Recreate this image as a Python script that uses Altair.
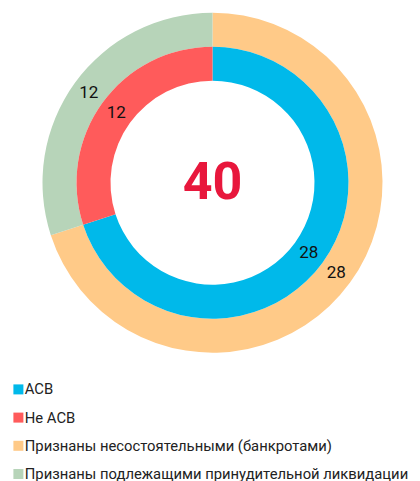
import altair as alt
import pandas as pd

inner_labels = ["АСВ", "Не АСВ"]
inner_values = [28, 12]
outer_labels = ["Признаны несостоятельными (банкротами)",
                "Признаны подлежащими принудительной ликвидации"]
outer_values = [28, 12]
total = [40]
colors = ["#00B9EA", "#FF5B5B", "#FFCA88", "#B7D4B9"]

FONT = "Roboto"
CX, CY = 204.5, 174.7

inner = pd.DataFrame({"cat": inner_labels, "value": inner_values, "idx": list(range(len(inner_labels)))})
outer = pd.DataFrame({"cat": outer_labels, "value": outer_values, "idx": list(range(len(outer_labels)))})
center = pd.DataFrame({"total": total})

color_scale = alt.Scale(domain=inner_labels + outer_labels, range=colors)

legend = alt.Legend(
    title=None, orient="none", legendX=-1, legendY=375,
    symbolType="M-0.2,-1.2H1.8V0.8H-0.2Z", symbolSize=100, symbolStrokeWidth=0,
    labelFont=FONT, labelFontSize=14.8, labelColor="#222222", labelLimit=0,
    rowPadding=12.2, labelOffset=3, padding=0, direction="vertical",
)


def ring(df, r_in, r_out, r_lab):
    base = alt.Chart(df).encode(
        theta=alt.Theta("value:Q", stack=True),
        order=alt.Order("idx:O"),
    )
    arc = base.mark_arc(innerRadius=r_in, outerRadius=r_out, x=CX, y=CY).encode(
        color=alt.Color("cat:N", scale=color_scale, legend=legend)
    )
    txt = base.mark_text(radius=r_lab, x=CX, y=CY, font=FONT, fontSize=17,
                         color="#111111").encode(text="value:Q")
    return arc + txt


inner_layer = ring(inner, 102, 136, 119)
outer_layer = ring(outer, 136, 170, 153)

center_txt = alt.Chart(center).mark_text(
    x=CX, y=CY, font=FONT, fontSize=52, fontWeight="bold", color="#E8173C",
    baseline="middle", align="center"
).encode(text="total:Q")

chart = alt.layer(outer_layer, inner_layer, center_txt).properties(
    width=404, height=473, autosize=alt.AutoSizeParams(type="none"), padding=0
).configure_view(stroke=None)

chart.save("out.html", embed_options={"renderer": "svg", "actions": False})
